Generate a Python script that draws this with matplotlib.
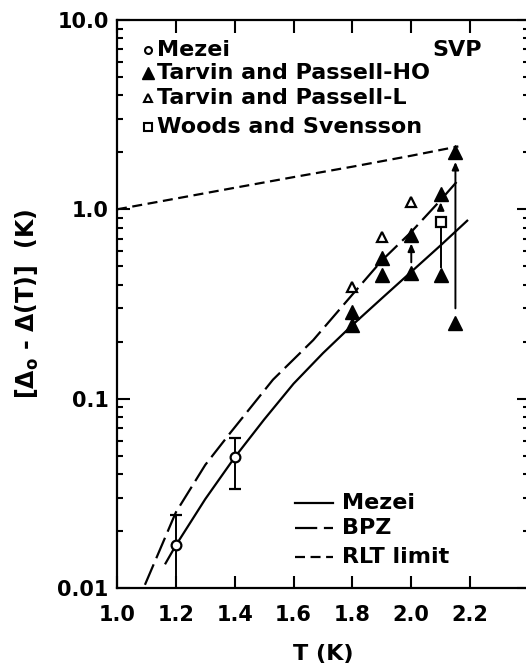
import numpy as np
import matplotlib
matplotlib.use("Agg")
import matplotlib.pyplot as plt

# ------------------------------------------------------------
# Data
# Mezei (open circles) with error bars
mezei_T = [1.2, 1.4]
mezei_val = [0.0168, 0.049]
mezei_lo = [0.0085, 0.0333]
mezei_hi = [0.0243, 0.062]

# Tarvin and Passell - HO (filled triangles)
tp_ho_T = [1.8, 1.8, 1.9, 1.9, 2.0, 2.0, 2.1, 2.1, 2.15, 2.15]
tp_ho_val = [0.286, 0.244, 0.551, 0.449, 0.729, 0.46, 1.2, 0.449, 2.0, 0.25]

# Tarvin and Passell - L (open triangles)
tp_l_T = [1.8, 1.9, 2.0]
tp_l_val = [0.388, 0.712, 1.09]

# Woods and Svensson (open square)
ws_T = [2.1]
ws_val = [0.853]

# vertical connectors / arrows (T, start, end, with head)
conn_T = [2.0, 2.1, 2.1, 2.15]
conn_lo = [0.525, 0.494, 0.99, 0.30]
conn_hi = [0.66, 0.794, 1.09, 1.78]
conn_head = [True, False, True, True]

# Curves
mezei_curve_T = [1.165, 1.2, 1.3, 1.4, 1.5, 1.6, 1.7, 1.8, 1.9, 2.0, 2.1, 2.19]
mezei_curve = [0.0135, 0.0168, 0.0295, 0.049, 0.0776, 0.120, 0.174, 0.245,
               0.339, 0.468, 0.646, 0.871]

bpz_T = [1.095, 1.2, 1.3, 1.385, 1.53, 1.667, 1.8, 1.9, 2.0, 2.1, 2.16]
bpz_curve = [0.0104, 0.0251, 0.0447, 0.066, 0.126, 0.204, 0.355, 0.537,
             0.76, 1.12, 1.43]

rlt_T = [1.0, 1.2, 1.4, 1.6, 1.8, 2.0, 2.16]
rlt_curve = [1.0, 1.14, 1.30, 1.48, 1.68, 1.92, 2.15]

legend_labels = ["Mezei", "Tarvin and Passell-HO", "Tarvin and Passell-L",
                 "Woods and Svensson"]
curve_labels = ["Mezei", "BPZ", "RLT limit"]

# ------------------------------------------------------------
# Figure
plt.rcParams['font.weight'] = 'bold'
plt.rcParams['axes.labelweight'] = 'bold'
plt.rcParams['mathtext.default'] = 'bf'
fig = plt.figure(figsize=(5.26, 6.67), dpi=100)
ax = fig.add_axes([0.2224, 0.1184, 0.7833, 0.8516])

lw = 1.6
bpz_ls = (0, (10, 3))
rlt_ls = (0, (4.5, 2.5))
ax.plot(mezei_curve_T, mezei_curve, color='black', lw=lw, ls='-')
ax.plot(bpz_T, bpz_curve, color='black', lw=lw, ls=bpz_ls)
ax.plot(rlt_T, rlt_curve, color='black', lw=lw, ls=rlt_ls)

for T, lo, hi, head in zip(conn_T, conn_lo, conn_hi, conn_head):
    if head:
        ax.annotate("", xy=(T, hi), xytext=(T, lo),
                    arrowprops=dict(arrowstyle='-|>,head_length=0.45,head_width=0.2',
                                    color='black', lw=1.4, shrinkA=0, shrinkB=0))
    else:
        ax.plot([T, T], [lo, hi], color='black', lw=1.4)

ax.errorbar(mezei_T, mezei_val,
            yerr=[np.array(mezei_val) - np.array(mezei_lo),
                  np.array(mezei_hi) - np.array(mezei_val)],
            fmt='o', ms=7, mfc='white', mec='black', mew=1.6,
            ecolor='black', elinewidth=1.4, capsize=4, capthick=1.4, zorder=5)
ax.plot(tp_ho_T, tp_ho_val, '^', ms=10, color='black', zorder=5)
ax.plot(tp_l_T, tp_l_val, '^', ms=7, mfc='white', mec='black', mew=1.6, zorder=5)
ax.plot(ws_T, ws_val, 's', ms=7, mfc='white', mec='black', mew=1.6, zorder=5)

ax.set_yscale('log')
ax.set_xlim(1.0, 2.4)
ax.set_ylim(0.01, 10.0)
ax.set_xticks([1.0, 1.2, 1.4, 1.6, 1.8, 2.0, 2.2])
ax.set_xticklabels(["1.0", "1.2", "1.4", "1.6", "1.8", "2.0", "2.2"])
ax.set_yticks([0.01, 0.1, 1.0, 10.0])
ax.set_yticklabels(["0.01", "0.1", "1.0", "10.0"])
ax.xaxis.set_minor_locator(matplotlib.ticker.NullLocator())

ax.tick_params(which='both', direction='in', top=True, right=True,
               width=1.5, labelsize=15)
ax.tick_params(axis='x', pad=12)
ax.tick_params(axis='y', pad=6)
ax.tick_params(which='major', length=9)
ax.tick_params(which='minor', length=4.5)
for s in ax.spines.values():
    s.set_linewidth(1.6)

ax.set_xlabel("T (K)", fontsize=16, labelpad=14)
ax.set_ylabel(r"[$\Delta_{\rm o}$ - $\Delta$(T)]  (K)", fontsize=17, labelpad=12)

# symbol legend (top left)
tr = ax.transAxes
leg_y = [0.948, 0.906, 0.863, 0.811]
ax.plot([0.075], [leg_y[0]], 'o', ms=5, mfc='white', mec='black', mew=1.5, transform=tr)
ax.plot([0.075], [leg_y[1]], '^', ms=8, color='black', transform=tr)
ax.plot([0.075], [leg_y[2]], '^', ms=6, mfc='white', mec='black', mew=1.5, transform=tr)
ax.plot([0.075], [leg_y[3]], 's', ms=6, mfc='white', mec='black', mew=1.5, transform=tr)
for y, lab in zip(leg_y, legend_labels):
    ax.text(0.096, y, lab, transform=tr, fontsize=16, va='center', ha='left')
ax.text(0.765, 0.948, "SVP", transform=tr, fontsize=16, va='center', ha='left')

# curve legend (lower right)
curve_styles = ['-', bpz_ls, rlt_ls]
cleg_y = [0.1495, 0.1055, 0.0545]
for y, st, lab in zip(cleg_y, curve_styles, curve_labels):
    ax.plot([0.432, 0.524], [y, y], color='black', lw=lw, ls=st, transform=tr)
    ax.text(0.545, y, lab, transform=tr, fontsize=16, va='center', ha='left')

fig.savefig("out.png", dpi=100)
